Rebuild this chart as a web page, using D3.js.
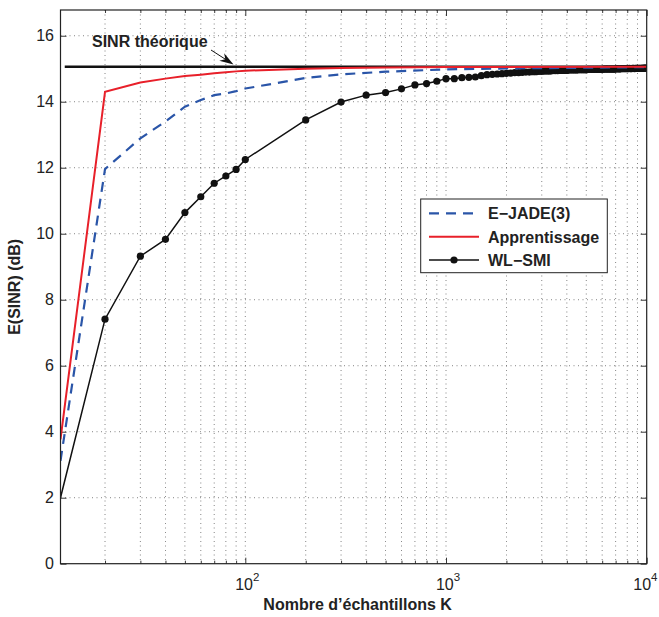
<!DOCTYPE html>
<html><head><meta charset="utf-8">
<script src="https://cdn.jsdelivr.net/npm/d3@7"></script>
<style>body{margin:0;background:#fff;} svg{display:block;font-family:"Liberation Sans",Arial,sans-serif;}</style>
</head><body>
<svg id="c" width="659" height="617"></svg>
<script>
// ---- data ----
const yTicks = [0,2,4,6,8,10,12,14,16];
const xMajorTicks = [100,1000,10000];
const xTickExponents = ["2","3","4"];
const sinrTheory = 15.06;
const theoryK = [12.6, 10000];

const kApp = [12,20,30,40,50,60,70,80,90,100,200,300,500,1000,10000];
const sinrApp = [3.77,14.30,14.58,14.70,14.78,14.82,14.86,14.89,14.92,14.94,15.00,15.02,15.04,15.05,15.06];

const kJade = [12,20,30,40,50,60,70,80,90,100,200,300,500,1000,2000,5000,10000];
const sinrJade = [3.12,11.96,12.89,13.40,13.85,14.05,14.20,14.25,14.32,14.40,14.72,14.83,14.91,14.98,15.01,15.03,15.05];

const kSmi = [12,20,30,40,50,60,70,80,90,
  100,200,300,400,500,600,700,800,900,
  1000,1100,1200,1300,1400,1500,1600,1700,1800,1900,
  2000,2100,2200,2300,2400,2500,2600,2700,2800,2900,
  3000,3100,3200,3300,3400,3500,3600,3700,3800,3900,
  4000,4100,4200,4300,4400,4500,4600,4700,4800,4900,
  5000,5100,5200,5300,5400,5500,5600,5700,5800,5900,
  6000,6100,6200,6300,6400,6500,6600,6700,6800,6900,
  7000,7100,7200,7300,7400,7500,7600,7700,7800,7900,
  8000,8100,8200,8300,8400,8500,8600,8700,8800,8900,
  9000,9100,9200,9300,9400,9500,9600,9700,9800,9900,10000];
const sinrSmi = [2.00,7.41,9.32,9.83,10.64,11.12,11.53,11.75,11.95,
  12.25,13.45,13.99,14.20,14.28,14.39,14.51,14.55,14.62,
  14.70,14.70,14.73,14.74,14.75,14.79,14.82,14.83,14.84,14.85,
  14.86,14.87,14.88,14.88,14.89,14.90,14.90,14.91,14.91,14.92,
  14.92,14.93,14.93,14.93,14.94,14.94,14.94,14.95,14.95,14.95,
  14.95,14.96,14.96,14.96,14.96,14.96,14.97,14.97,14.97,14.97,
  14.97,14.98,14.98,14.98,14.98,14.98,14.98,14.98,14.98,14.98,
  14.98,14.99,14.99,14.99,14.99,14.99,14.99,14.99,14.99,14.99,
  14.99,15.00,15.00,14.99,15.00,15.00,15.00,15.00,15.00,15.00,
  15.00,15.00,15.01,15.00,15.00,15.01,15.01,15.00,15.01,15.01,
  15.01,15.01,15.01,15.01,15.01,15.01,15.02,15.01,15.02,15.02,15.02];

const legendNames = ["E\u2212JADE(3)","Apprentissage","WL\u2212SMI"];

// ---- layout ----
const L = 60.5, R = 646.7, T = 10, B = 563.7;
const svg = d3.select("#c");
const x = d3.scaleLog().domain([12,10000]).range([L,R]);
const y = d3.scaleLinear().domain([0,16.78]).range([B,T]);

// minor ticks
const minor = [];
[10,100,1000].forEach(d=>{for(let m=2;m<=9;m++){const v=d*m; if(v>=12&&v<=10000) minor.push(v);}});
const vGrid = minor.concat(xMajorTicks.filter(v=>v<10000));

const g = svg.append("g");
// grid
g.selectAll(".vg").data(vGrid).enter().append("line")
  .attr("x1",d=>x(d)).attr("x2",d=>x(d)).attr("y1",T).attr("y2",B)
  .attr("stroke","#333").attr("stroke-width",0.8).attr("stroke-dasharray","1,3.5").attr("opacity",0.75);
g.selectAll(".hg").data(yTicks.filter(v=>v>0)).enter().append("line")
  .attr("x1",L).attr("x2",R).attr("y1",d=>y(d)).attr("y2",d=>y(d))
  .attr("stroke","#333").attr("stroke-width",0.8).attr("stroke-dasharray","1,3.5").attr("opacity",0.75);

// axes via d3
const xAxisB = d3.axisBottom(x).tickValues(xMajorTicks).tickSize(-6).tickFormat("");
const xAxisT = d3.axisTop(x).tickValues(xMajorTicks).tickSize(-6).tickFormat("");
const xMinB = d3.axisBottom(x).tickValues(minor).tickSize(-3).tickFormat("");
const xMinT = d3.axisTop(x).tickValues(minor).tickSize(-3).tickFormat("");
const yAxisL = d3.axisLeft(y).tickValues(yTicks).tickSize(-6).tickFormat("");
const yAxisR = d3.axisRight(y).tickValues(yTicks).tickSize(-6).tickFormat("");
function styleAx(s){s.select(".domain").remove(); s.selectAll("line").attr("stroke","#222").attr("stroke-width",0.9);}
g.append("g").attr("transform",`translate(0,${B})`).call(xAxisB).call(styleAx);
g.append("g").attr("transform",`translate(0,${T})`).call(xAxisT).call(styleAx);
g.append("g").attr("transform",`translate(0,${B})`).call(xMinB).call(styleAx);
g.append("g").attr("transform",`translate(0,${T})`).call(xMinT).call(styleAx);
g.append("g").attr("transform",`translate(${L},0)`).call(yAxisL).call(styleAx);
g.append("g").attr("transform",`translate(${R},0)`).call(yAxisR).call(styleAx);

// tick labels
g.selectAll(".yl").data(yTicks).enter().append("text")
  .attr("x",54).attr("y",d=>y(d)).attr("dy","0.36em").attr("text-anchor","end")
  .attr("font-size",16).attr("fill","#222").text(d=>d);
xMajorTicks.forEach((v,i)=>{
  const last = i===xMajorTicks.length-1;
  const t = g.append("text").attr("x",last?657.5:x(v)+2).attr("y",590)
    .attr("text-anchor",last?"end":"middle").attr("font-size",16).attr("fill","#222");
  t.append("tspan").text("10");
  t.append("tspan").attr("dy",-9).attr("font-size",11.5).text(xTickExponents[i]);
});

// axis labels
svg.append("text").attr("x",(L+R)/2+4).attr("y",610).attr("text-anchor","middle")
  .attr("font-size",16).attr("font-weight","bold").attr("fill","#222").text("Nombre d\u2019\u00e9chantillons K");
svg.append("text").attr("transform",`translate(20,${(T+B)/2}) rotate(-90)`).attr("text-anchor","middle")
  .attr("font-size",16).attr("font-weight","bold").attr("fill","#222").text("E(SINR) (dB)");

// clip
svg.append("clipPath").attr("id","clip").append("rect").attr("x",L).attr("y",T).attr("width",R-L).attr("height",B-T);
const pg = svg.append("g").attr("clip-path","url(#clip)");

const line = d3.line().x(d=>x(d[0])).y(d=>y(d[1]));
const zip = (a,b)=>a.map((v,i)=>[v,b[i]]);

// theory line
pg.append("path").datum(theoryK.map(k=>[k,sinrTheory])).attr("d",line)
  .attr("stroke","#111").attr("stroke-width",2.6).attr("fill","none");

pg.append("path").datum(zip(kSmi,sinrSmi)).attr("d",line)
  .attr("stroke","#111").attr("stroke-width",1.5).attr("fill","none");
pg.selectAll(".mk").data(zip(kSmi,sinrSmi).filter(d=>d[0]>=20)).enter().append("circle")
  .attr("cx",d=>x(d[0])).attr("cy",d=>y(d[1])).attr("r",3.6).attr("fill","#111");

pg.append("path").datum(zip(kJade,sinrJade)).attr("d",line)
  .attr("stroke","#2a55a8").attr("stroke-width",2.2).attr("fill","none").attr("stroke-dasharray","10,7");
pg.append("path").datum(zip(kApp,sinrApp)).attr("d",line)
  .attr("stroke","#e8202a").attr("stroke-width",2).attr("fill","none");

// border
svg.append("rect").attr("x",L).attr("y",T).attr("width",R-L).attr("height",B-T)
  .attr("fill","none").attr("stroke","#222").attr("stroke-width",1.2);

// annotation
svg.append("text").attr("x",92).attr("y",47).attr("font-size",16).attr("font-weight","bold").attr("fill","#222").text("SINR th\u00e9orique");
const ax1=211, ay1=50, ax2=233.5, ay2=64.5;
svg.append("line").attr("x1",ax1).attr("y1",ay1).attr("x2",ax2-6).attr("y2",ay2-3.9)
  .attr("stroke","#111").attr("stroke-width",1);
{
  const ang = Math.atan2(ay2-ay1, ax2-ax1), len=14, hw=4.5;
  const bx = ax2-len*Math.cos(ang), by = ay2-len*Math.sin(ang);
  const nx = -Math.sin(ang), ny = Math.cos(ang);
  const mx = ax2-0.7*len*Math.cos(ang), my = ay2-0.7*len*Math.sin(ang);
  svg.append("path").attr("d",`M${ax2},${ay2} L${bx+nx*hw},${by+ny*hw} L${mx},${my} L${bx-nx*hw},${by-ny*hw} Z`).attr("fill","#111");
}

// legend
const lg = svg.append("g");
lg.append("rect").attr("x",420.7).attr("y",199).attr("width",186.6).attr("height",73.7)
  .attr("fill","#fff").attr("stroke","#222").attr("stroke-width",1);
const rows = [213.3,236.8,260];
const styles = [
  {c:"#2a55a8",w:2.2,d:"10,7"},
  {c:"#e8202a",w:2,d:null},
  {c:"#111",w:1.5,d:null}
];
legendNames.forEach((n,i)=>{
  const ln = lg.append("line").attr("x1",429).attr("x2",479).attr("y1",rows[i]).attr("y2",rows[i])
    .attr("stroke",styles[i].c).attr("stroke-width",styles[i].w);
  if(styles[i].d) ln.attr("stroke-dasharray",styles[i].d);
  if(i===2) lg.append("circle").attr("cx",454).attr("cy",rows[i]).attr("r",3.6).attr("fill","#111");
  lg.append("text").attr("x",488).attr("y",rows[i]).attr("dy","0.36em").attr("font-size",16)
    .attr("font-weight","bold").attr("fill","#222").text(n);
});
</script>
</body></html>
